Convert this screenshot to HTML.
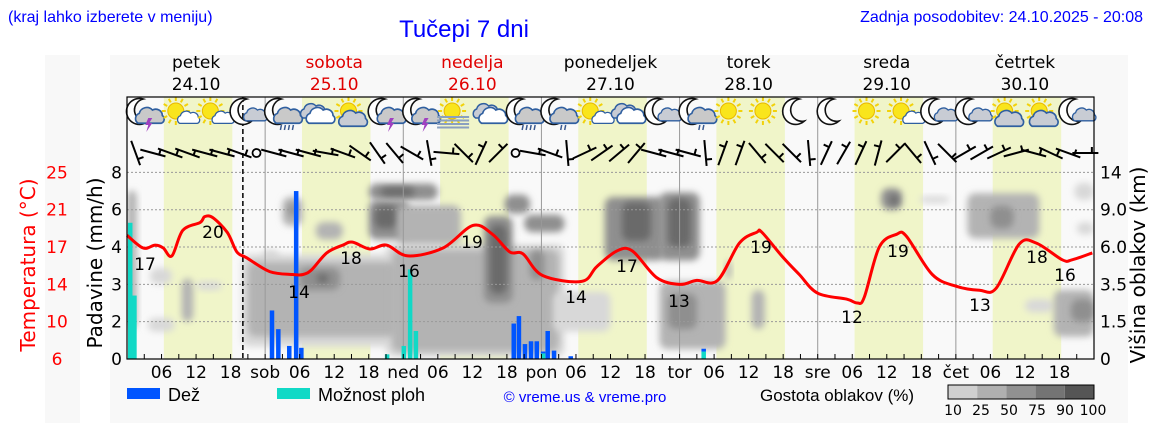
<!DOCTYPE html>
<html><head><meta charset="utf-8">
<style>
html,body{margin:0;padding:0;background:#fff;}
svg{display:block;}
.t{font-family:"DejaVu Sans","Liberation Sans",sans-serif;}
.l{font-family:"Liberation Sans",sans-serif;}
</style></head>
<body>
<svg id="chart" width="1152" height="443" viewBox="0 0 1152 443" xmlns="http://www.w3.org/2000/svg">
<defs>
<filter id="blur" x="-50%" y="-50%" width="200%" height="200%"><feGaussianBlur stdDeviation="3.5"/></filter>
<clipPath id="plotclip"><rect x="127" y="172" width="967" height="187"/></clipPath>
</defs>
<rect x="110" y="55" width="1018" height="368" fill="#f8f8f8"/>
<rect x="45" y="55" width="35" height="368" fill="#f8f8f8"/>
<text x="8" y="22" class="l" font-size="16" fill="#0000ff">(kraj lahko izberete v meniju)</text>
<text x="464" y="37" class="l" font-size="24" fill="#0000ff" text-anchor="middle">Tučepi 7 dni</text>
<text x="1143" y="22" class="l" font-size="16" fill="#0000ff" text-anchor="end">Zadnja posodobitev: 24.10.2025 - 20:08</text>
<g id="bg"></g>
<g id="clouds" clip-path="url(#plotclip)"></g>
<g id="grid"></g>
<g id="bars"></g>
<g id="temp"></g>
<g id="icons"></g>
<g id="wind"></g>
<g id="axes"></g>
<g id="legend">
  <rect x="127" y="388" width="33" height="11" fill="#0055ff"/>
  <text x="168" y="401" class="l" font-size="18" fill="#000">Dež</text>
  <rect x="277" y="388" width="33" height="11" fill="#11d9c6"/>
  <text x="318" y="401" class="l" font-size="18" fill="#000">Možnost ploh</text>
  <text x="585" y="402" class="l" font-size="15" fill="#0000ff" text-anchor="middle">© vreme.us &amp; vreme.pro</text>
  <text x="760" y="401" class="l" font-size="17" fill="#000">Gostota oblakov (%)</text>
  <g id="cbar"></g>
</g>
</svg>
<script>
const NS="http://www.w3.org/2000/svg";
// ---- data ----
const tempHours=[0,2.8,4.9,6.3,7.8,9.7,12.7,13.5,14.9,17.4,19.1,20.8,24.8,28.8,30.6,32.1,34.7,37.5,39.2,42.2,45.1,48.8,54.9,60.1,63.5,66.5,68.8,72.2,79.0,81.6,85.1,87.8,92.0,96.0,99.0,102.6,106.4,109.4,110.3,113.9,116.8,120.0,125.0,126.9,128.1,130.7,133.7,135.4,139.9,144.1,148.1,151.0,155.0,158.0,162.5,164.2,167.7];
const tempValues=[18.6,17.3,17.6,17.3,16.5,19.1,19.9,20.5,20.4,18.9,16.9,16.3,14.9,14.6,14.6,15.1,16.8,17.6,17.9,17.2,17.6,16.5,17.3,19.6,18.7,16.9,16.7,14.5,13.9,15.4,17.0,17.0,14.3,13.6,14.0,14.0,17.8,18.9,18.9,16.4,14.6,12.7,12.1,11.7,12.3,17.4,18.7,18.5,14.6,13.4,13.0,13.2,17.7,17.8,16.1,16.1,16.8];
const tempLabelText=["17","20","14","18","16","19","14","17","13","19","12","19","13","18","16"];
const tempLabelX=[145,213,299,351,409,472,576,627,679,761,852,898,980,1037,1065];
const tempLabelY=[270,238,298,264,277,248,303,272,307,253,323,257,311,263,281];
const barHours=[0.17,0.9,24.8,25.9,27.8,29.0,29.9,44.8,47.7,48.8,49.8,66.8,67.7,68.75,69.8,70.8,71.9,72.7,73.8,76.7,99.8];
const rainValues=[0,0,2.3,1.6,0.7,7.0,0.6,0,0,0,0,1.9,2.15,0.8,0.95,0.95,0.1,1.5,0.45,0.15,0.15];
const showerValues=[5.3,2.7,0,0,0,0,0,0.25,0.7,3.4,1.5,0,0,0,0,0,0.3,0,0,0,0.4];
const mmTicks=[0,2,3,4,6,8];
const tempTicks=["6","10","14","17","21","25"];
const kmTicks=[0,1.5,3.5,6,9,14];
const kmTickLabels=["0","1.5","3.5","6.0","9.0","14"];
const dayNames=["petek","sobota","nedelja","ponedeljek","torek","sreda","četrtek"];
const dayDates=["24.10","25.10","26.10","27.10","28.10","29.10","30.10"];
const dayRed=[false,true,true,false,false,false,false];
const dayAbbr=["","sob","ned","pon","tor","sre","čet"];
// cloud blobs: [hourStart, hourEnd, kmLow, kmHigh, level]
const cloudBlobs=[
[20,48,0.5,5.5,1],[45,76,0.1,6.2,1],
[0,1.7,1.2,11.6,2],[4,7.8,3.5,4.6,1],[9.5,11.5,1.5,3.9,2],[12,16.5,3.2,3.7,1],[3.6,8.3,1.1,1.7,1],
[27,30.5,7.7,10.7,2],[28,29.5,8.5,9.8,3],[32.8,37.5,6.6,8.0,2],[23.4,26.5,4.8,5.8,1],
[21,47,0.9,5.0,2],[46,75,0.3,5.8,2],[30,37,3.2,4.6,3],[33,35,3.6,4.2,4],
[42,54,10.3,12.5,3],[44,50,10.8,12,4],[42,49,6.6,10.3,3],[43,47,7.5,9.5,4],[47,58,6.2,9.6,2],
[62,67,2.5,8.5,3],[63,66,3,7.8,4],[65.6,70,8.7,11,3],[69,76,7.2,8.6,3],[70,72.5,3.8,5.8,3],
[74,84,1.1,3.1,1],[83,93.4,5.1,10.7,3],[86,91,6.5,10,4],[92.5,99.5,5.1,11.3,3],[94,98,6,10.5,4],
[92.5,104,0.4,3.7,2],[94,99,1.2,3,3],[108.5,110.8,1.2,3.2,2],[104,105,3.8,5.1,2],
[131,134.7,9,11.9,3],[132.5,134,9.6,11,4],[137.7,142.9,9.9,10.8,1],[146,158.5,6.7,11.2,2],[150,154,7.5,9.5,3],
[164.6,168,10.3,12.6,1],[156,161,2,2.7,1],[161,168,0.9,3.2,2],[164,168,1.5,2.7,3],[165,168,7,8,1]];
const iconTypes=["moon-storm","sun-cloud","sun-cloud","moon-cloud",
"moon-rain","clouds","sun-cloud-gray","moon-storm",
"moon-storm","sun-fog","clouds","moon-rain",
"moon-drizzle","sun-cloud","clouds","moon-cloud",
"moon-drizzle","sun","sun","moon",
"moon","sun","sun-cloud","moon-cloud",
"moon-cloud","sun-cloud-gray","sun-cloud-gray","moon-cloud"];
const windAngles=[70,15,20,20,15,15,20,"calm",
15,15,15,10,20,35,55,50,
30,80,5,45,-65,-45,"calm",10,
20,85,-25,-35,-40,-50,15,15,
15,85,-70,-70,50,45,45,85,
-65,-60,-65,-75,-45,50,65,45,
-30,-30,-25,-15,15,25,20,0];
const cbarLabels=["10","25","50","75","90","100"];
// ---- scales ----
const X0=127,X1=1094,Y0=359,YT=172.4,STEP=(Y0-YT)/5;
const xH=h=>X0+h*(X1-X0)/168;
const yT=t=>Y0-(t-6)*(Y0-YT)/19;
function piece(ticks,v){for(let i=0;i<ticks.length-1;i++){if(v<=ticks[i+1]||i==ticks.length-2){return Y0-(i+(v-ticks[i])/(ticks[i+1]-ticks[i]))*STEP;}}}
const yMM=v=>piece(mmTicks,v);
const yKM=v=>piece(kmTicks,v);
function el(tag,attrs,parent){const e=document.createElementNS(NS,tag);for(const k in attrs)e.setAttribute(k,attrs[k]);parent.appendChild(e);return e;}
const $=id=>document.getElementById(id);
// background
const bg=$("bg");
let r=el("rect",{x:X0,y:97,width:X1-X0,height:Y0-97,fill:"#f9f9f9"},bg);


for(let d=0;d<7;d++){
  r=el("rect",{x:xH(d*24+6.4),y:97,width:xH(18.3)-xH(6.4),height:Y0-97,fill:"#f0f5c9"},bg);
  
  
}
// clouds
const cc=["","#d8d8d8","#b3b3b3","#8f8f8f","#6b6b6b","#505050"];
const cg=$("clouds");
cloudBlobs.forEach(b=>{
  const x1=xH(b[0]),x2=xH(b[1]),y1=yKM(b[3]),y2=yKM(b[2]);
  r=el("rect",{x:x1,y:y1,width:x2-x1,height:y2-y1,rx:8,fill:cc[b[4]],filter:"url(#blur)"},cg);
  
  
});
// grid
const gg=$("grid");
for(let i=1;i<=5;i++){
  const y=Y0-i*STEP;
  r=el("line",{x1:X0,x2:X1,y1:y,y2:y,stroke:"#999",'stroke-width':1,'stroke-dasharray':"2,2"},gg);
  
  
}
for(let d=1;d<7;d++){
  r=el("line",{x1:xH(d*24),x2:xH(d*24),y1:97,y2:Y0,stroke:"#999",'stroke-width':1},gg);
  
  
}
r=el("line",{x1:xH(20.13),x2:xH(20.13),y1:97,y2:Y0,stroke:"#000",'stroke-width':1.5,'stroke-dasharray':"5,3"},gg);


// bars
const bgp=$("bars");
barHours.forEach((h,i)=>{
  const x=xH(h);
  const s=showerValues[i],rv=rainValues[i];
  if(s>0){r=el("rect",{x:x,y:yMM(s),width:4.5,height:Y0-yMM(s),fill:"#11d9c6"},bgp);
    
    }
  if(rv>0){r=el("rect",{x:x,y:yMM(s+rv),width:4.5,height:yMM(s)-yMM(s+rv),fill:"#0055ff"},bgp);
    
    }
});
// temperature line (Catmull-Rom smoothing)
const pts=tempHours.map((h,i)=>[xH(h),yT(tempValues[i])]);
let d="M"+pts[0][0].toFixed(1)+","+pts[0][1].toFixed(1);
for(let i=0;i<pts.length-1;i++){
  const p0=pts[Math.max(0,i-1)],p1=pts[i],p2=pts[i+1],p3=pts[Math.min(pts.length-1,i+2)];
  const c1=[p1[0]+(p2[0]-p0[0])/6,p1[1]+(p2[1]-p0[1])/6],c2=[p2[0]-(p3[0]-p1[0])/6,p2[1]-(p3[1]-p1[1])/6];
  d+=` C${c1[0].toFixed(1)},${c1[1].toFixed(1)} ${c2[0].toFixed(1)},${c2[1].toFixed(1)} ${p2[0].toFixed(1)},${p2[1].toFixed(1)}`;
}
const tg=$("temp");
r=el("path",{d:d,fill:"none",stroke:"#ff0000",'stroke-width':3,'stroke-linejoin':"round"},tg);


tempLabelText.forEach((t,i)=>{
  r=el("text",{x:tempLabelX[i],y:tempLabelY[i],'font-size':17,'text-anchor':"middle",fill:"#000",class:"t"},tg);
  r.textContent=t;
  
  
});
// icons
const ig=$("icons");
function moon(g,cx,cy){el("path",{d:`M${cx+3},${cy-13} A13,13 0 1,0 ${cx+8},${cy+9} A11,11 0 1,1 ${cx+3},${cy-13}Z`,fill:"#fff",stroke:"#111",'stroke-width':1.6},g);}
function sun(g,cx,cy,rr){for(let a=0;a<360;a+=30){const t=a*Math.PI/180;el("line",{x1:cx+Math.cos(t)*(rr+2),y1:cy+Math.sin(t)*(rr+2),x2:cx+Math.cos(t)*(rr+6),y2:cy+Math.sin(t)*(rr+6),stroke:"#f2d20a",'stroke-width':2},g);}el("circle",{cx:cx,cy:cy,r:rr,fill:"#f9e51c",stroke:"#e8b800",'stroke-width':1},g);}
function cloud(g,cx,cy,s,fill){el("path",{d:`M${cx-10*s},${cy+6*s} a5,5 0 0,1 1,-9 a7,7 0 0,1 12,-3 a6,6 0 0,1 9,5 a4,4 0 0,1 -1,7 Z`,fill:fill,stroke:"#2f5fa0",'stroke-width':1.5,transform:`translate(${cx},${cy}) scale(${s}) translate(${-cx},${-cy})`},g);}
iconTypes.forEach((t,i)=>{
  const cx=xH(i*6+3),cy=114;
  const g=el("g",{},ig);
  
  
  if(t.startsWith("moon")){moon(g,cx-4,cy-2);
    if(t!="moon"){cloud(g,cx+6,cy+2,t=="moon-cloud"?0.9:1.1,t=="moon-cloud"?"#c8ccd4":"#c9c9c9");}
    if(t=="moon-storm")el("path",{d:`M${cx+4},${cy+4} l-3,7 h3 l-2,7 l6,-9 h-3 l3,-5z`,fill:"#a040c0"},g);
    if(t=="moon-rain")for(let k=0;k<4;k++)el("line",{x1:cx-1+k*4,y1:cy+11,x2:cx-2+k*4,y2:cy+16,stroke:"#3a5a90",'stroke-width':1.5},g);
    if(t=="moon-drizzle")for(let k=0;k<2;k++)el("line",{x1:cx+3+k*4,y1:cy+11,x2:cx+2+k*4,y2:cy+16,stroke:"#3a5a90",'stroke-width':1.5},g);
  } else if(t.startsWith("sun")){
    sun(g,cx-3,cy-3,8);
    if(t=="sun-cloud")cloud(g,cx+8,cy+5,0.85,"#fff");
    if(t=="sun-cloud-gray")cloud(g,cx+2,cy+5,1.1,"#c8ccd4");
    if(t=="sun-fog")for(let k=0;k<4;k++)el("line",{x1:cx-18,x2:cx+14,y1:cy+3+k*3.5,y2:cy+3+k*3.5,stroke:"#8aa0c0",'stroke-width':2},g);
  } else if(t=="clouds"){cloud(g,cx-4,cy-2,1.0,"#c8ccd4");cloud(g,cx+4,cy+2,1.1,"#fff");}
});
// wind barbs
const wg=$("wind");
windAngles.forEach((a,i)=>{
  const cx=xH(i*3+1.5),cy=153;
  const g=el("g",{},wg);
  
  
  if(a==="calm"){el("circle",{cx:cx,cy:cy,r:4,fill:"none",stroke:"#000",'stroke-width':1.8},g);return;}
  const t=a*Math.PI/180,L=13,dx=Math.cos(t)*L,dy=Math.sin(t)*L;
  el("line",{x1:cx-dx,y1:cy-dy,x2:cx+dx,y2:cy+dy,stroke:"#000",'stroke-width':2},g);
  const nx=-Math.sin(t)*6,ny=Math.cos(t)*6;
  el("line",{x1:cx+dx*0.5,y1:cy+dy*0.5,x2:cx+dx*0.5-nx,y2:cy+dy*0.5-ny,stroke:"#000",'stroke-width':2},g);
});
// axes
const ag=$("axes");
r=el("rect",{x:X0,y:97,width:X1-X0,height:Y0-97,fill:"none",stroke:"#000",'stroke-width':1.2},ag);


function txt(x,y,s,size,fill,anchor,name,cls,extra){const e=el("text",Object.assign({x:x,y:y,'font-size':size,fill:fill,'text-anchor':anchor,class:cls||"t"},extra||{}),ag);e.textContent=s;return e;}
for(let h=3;h<168;h+=3){el("line",{x1:xH(h),x2:xH(h),y1:Y0,y2:Y0-5,stroke:"#000",'stroke-width':1},ag);}
for(let h=0;h<168;h+=6){
  const day=Math.floor(h/24),hr=h%24;
  if(hr==0){if(day>0)txt(xH(h),378,dayAbbr[day],17,"#000","middle","x-tick-label");}
  else txt(xH(h),378,(hr<10?"0":"")+hr,17,"#000","middle","x-tick-label");
}
for(let i=0;i<6;i++){
  const y=Y0-i*STEP+6;
  txt(122,y,String(mmTicks[i]),17,"#000","end","y-tick-label-precip");
  txt(57,y,tempTicks[i],17,"#ff0000","middle","y-tick-label-temp");
  txt(1100,y,kmTickLabels[i],17,"#000","start","y-tick-label-cloud");
}
txt(0,0,"Temperatura (°C)",20,"#ff0000","middle","temperature-axis-title","t",{transform:"translate(35,265) rotate(-90)"});
txt(0,0,"Padavine (mm/h)",20,"#000","middle","precip-axis-title","t",{transform:"translate(102,263) rotate(-90)"});
txt(0,0,"Višina oblakov (km)",20,"#000","middle","cloud-axis-title","t",{transform:"translate(1145,265) rotate(-90)"});
for(let dd=0;dd<7;dd++){
  const cx=xH(dd*24+12),col=dayRed[dd]?"#e00000":"#000";
  txt(cx,68,dayNames[dd],17,col,"middle","day-name");
  txt(cx,90,dayDates[dd],17,col,"middle","day-date");
}
// colorbar
const cb=$("cbar"),cbc=["#d0d0d0","#b0b0b0","#919191","#747474","#555555"];
for(let i=0;i<5;i++){r=el("rect",{x:948+i*29.2,y:385,width:29.2,height:14,fill:cbc[i]},cb);
  
  }
r=el("rect",{x:948,y:385,width:146,height:14,fill:"none",stroke:"#000",'stroke-width':1},cb);


cbarLabels.forEach((s,i)=>{const e=el("text",{x:953+i*28,y:415,'font-size':14,'text-anchor':"middle",class:"t",fill:"#000"},cb);e.textContent=s;
  
  });
</script>
</body></html>
